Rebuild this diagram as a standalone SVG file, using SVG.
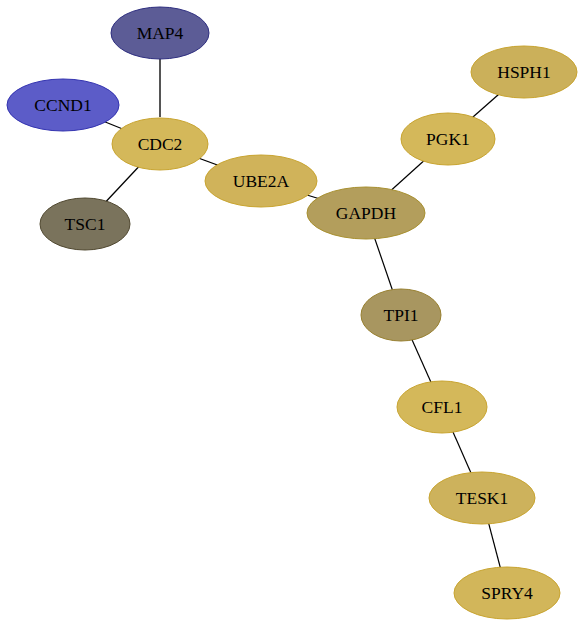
<svg xmlns="http://www.w3.org/2000/svg" width="584" height="627" viewBox="0 0 584 627">
<style>
.e{stroke:#000;stroke-width:1.2}
.t{font-family:"Liberation Serif","Times New Roman",serif;font-size:17.5px;text-anchor:middle;dominant-baseline:central;fill:#000}
</style>
<rect width="584" height="627" fill="#fff"/>
<g id="edges">
<line x1="160" y1="59" x2="160" y2="117" stroke="#555" stroke-width="2"/>
<line class="e" x1="63" y1="105" x2="160" y2="144"/>
<line class="e" x1="160" y1="144" x2="85" y2="224"/>
<line class="e" x1="160" y1="144" x2="261" y2="181"/>
<line class="e" x1="261" y1="181" x2="366" y2="213"/>
<line class="e" x1="366" y1="213" x2="448" y2="139"/>
<line class="e" x1="448" y1="139" x2="524" y2="72"/>
<line class="e" x1="366" y1="213" x2="401" y2="315"/>
<line class="e" x1="401" y1="315" x2="442" y2="407"/>
<line class="e" x1="442" y1="407" x2="482" y2="498"/>
<line class="e" x1="482" y1="498" x2="507" y2="593"/>
</g>
<g id="MAP4"><ellipse cx="160" cy="33" rx="49" ry="26" fill="#5c5c96" stroke="#2e2e80"/><text class="t" x="160" y="33">MAP4</text></g>
<g id="CCND1"><ellipse cx="63" cy="105" rx="56" ry="26" fill="#5c5cc8" stroke="#3333b0"/><text class="t" x="63" y="105">CCND1</text></g>
<g id="CDC2"><ellipse cx="160" cy="144" rx="48" ry="26" fill="#d4b85a" stroke="#c8a430"/><text class="t" x="160" y="144">CDC2</text></g>
<g id="UBE2A"><ellipse cx="261" cy="181" rx="56" ry="26" fill="#d0b35a" stroke="#c8a430"/><text class="t" x="261" y="181">UBE2A</text></g>
<g id="TSC1"><ellipse cx="85" cy="224" rx="45" ry="26" fill="#7a735c" stroke="#504830"/><text class="t" x="85" y="224">TSC1</text></g>
<g id="HSPH1"><ellipse cx="524" cy="72" rx="53" ry="26" fill="#cbb05a" stroke="#c8a430"/><text class="t" x="524" y="72">HSPH1</text></g>
<g id="PGK1"><ellipse cx="448" cy="139" rx="47" ry="26" fill="#d4b85a" stroke="#c8a430"/><text class="t" x="448" y="139">PGK1</text></g>
<g id="GAPDH"><ellipse cx="366" cy="213" rx="59" ry="26" fill="#b39e5c" stroke="#a89030"/><text class="t" x="366" y="213">GAPDH</text></g>
<g id="TPI1"><ellipse cx="401" cy="315" rx="40" ry="26" fill="#a89660" stroke="#988030"/><text class="t" x="401" y="315">TPI1</text></g>
<g id="CFL1"><ellipse cx="442" cy="407" rx="45" ry="26" fill="#d4b85a" stroke="#c8a430"/><text class="t" x="442" y="407">CFL1</text></g>
<g id="TESK1"><ellipse cx="482" cy="498" rx="53" ry="26" fill="#cdb25c" stroke="#c8a430"/><text class="t" x="482" y="498">TESK1</text></g>
<g id="SPRY4"><ellipse cx="507" cy="593" rx="53" ry="26" fill="#d2b65a" stroke="#c8a430"/><text class="t" x="507" y="593">SPRY4</text></g>
</svg>
